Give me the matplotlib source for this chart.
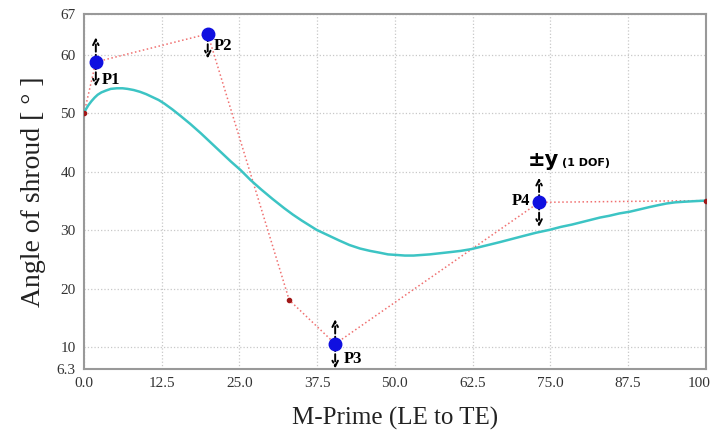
import numpy as np
import matplotlib.pyplot as plt
import matplotlib.transforms as mtransforms

# control polygon (Bezier control points)
ctrl_x = [0.0, 1.9, 19.9, 33.0, 40.4, 73.2, 100.0]
ctrl_y = [50.0, 58.8, 63.6, 18.1, 10.6, 34.8, 35.1]

# movable points P1..P4
p_names = ["P1", "P2", "P3", "P4"]
p_x = [1.9, 19.9, 40.4, 73.2]
p_y = [58.8, 63.6, 10.6, 34.8]

# fixed points
fix_x = [0.0, 33.0, 100.0]
fix_y = [50.0, 18.1, 35.1]

# shroud curve
curve_x = [0, 0.3, 0.7, 1.2, 1.7, 2.2, 2.8, 3.5, 4.3, 5.3, 6.2, 7.0, 8.0, 9.0, 10.0,
           11.0, 12.0, 12.9, 14.2, 15.5, 17.1, 18.8, 20.4, 22.0, 23.6, 25.2, 26.8,
           28.5, 30.3, 32.2, 33.6, 35.0, 36.2, 37.4, 39.2, 41.0, 42.7, 44.4, 46.0,
           47.5, 48.9, 50.3, 51.6, 53.0, 54.3, 55.6, 57.3, 59.0, 60.6, 62.3, 64.6,
           66.9, 68.7, 70.5, 72.7, 74.9, 76.7, 78.5, 80.0, 81.5, 83.0, 84.5, 86.1,
           87.8, 89.4, 91.0, 92.3, 93.7, 95.1, 96.5, 98.2, 100]
curve_y = [50.0, 50.7, 51.4, 52.1, 52.7, 53.2, 53.6, 53.9, 54.2, 54.3, 54.3, 54.2,
           54.0, 53.7, 53.3, 52.8, 52.3, 51.7, 50.7, 49.6, 48.2, 46.6, 45.0, 43.4,
           41.8, 40.3, 38.6, 37.0, 35.4, 33.8, 32.7, 31.7, 30.9, 30.1, 29.2, 28.3,
           27.5, 26.9, 26.5, 26.2, 25.9, 25.8, 25.7, 25.7, 25.8, 25.9, 26.1, 26.3,
           26.5, 26.8, 27.4, 28.0, 28.5, 29.0, 29.6, 30.1, 30.6, 31.0, 31.4, 31.8,
           32.2, 32.5, 32.9, 33.2, 33.6, 34.0, 34.3, 34.6, 34.8, 34.9, 35.0, 35.1]

xticks = [0, 12.5, 25, 37.5, 50, 62.5, 75, 87.5, 100]
xtick_labels = ["0.0", "12.5", "25.0", "37.5", "50.0", "62.5", "75.0", "87.5", "100"]
yticks = [6.3, 10, 20, 30, 40, 50, 60, 67]
ytick_labels = ["6.3", "10", "20", "30", "40", "50", "60", "67"]

plt.rcParams['font.family'] = ['Liberation Serif', 'DejaVu Serif']

fig = plt.figure(figsize=(7.15, 4.38), dpi=100)
ax = fig.add_axes([0.1175, 0.1575, 0.8695, 0.8105])

ax.plot(ctrl_x, ctrl_y, linestyle=':', color='#f07070', linewidth=1.1, zorder=2)
ax.plot(curve_x, curve_y, color='#3cc4c4', linewidth=1.8, zorder=3)
ax.plot(fix_x, fix_y, 'o', color='#a01818', markersize=3, zorder=4)

# double arrows (1 DOF)
for x, y in zip(p_x, p_y):
    for d in (1, -1):
        ax.annotate("", xy=(x, y + d * 4.2), xytext=(x, y),
                    arrowprops=dict(arrowstyle='->', linestyle='--', color='black',
                                    lw=1.4, shrinkA=0, shrinkB=0), zorder=5)

ax.plot(p_x, p_y, 'o', color='#1010e0', markersize=9, zorder=6)

offsets = [(1.0, -3.0, 'left'), (1.0, -2.0, 'left'), (1.4, -2.6, 'left'), (-1.5, 0.3, 'right')]
for name, x, y, (dx, dy, ha) in zip(p_names, p_x, p_y, offsets):
    ax.text(x + dx, y + dy, name, fontsize=12, fontweight='bold', ha=ha, va='center',
            zorder=7)

ax.text(71.4, 42.0, "±y", fontsize=15, fontweight='bold', family=['DejaVu Sans'],
        ha='left', va='center')
ax.text(76.9, 41.6, "(1 DOF)", fontsize=8, fontweight='bold', family=['DejaVu Sans'],
        ha='left', va='center')

ax.set_xlim(0, 100)
ax.set_ylim(6.3, 67)
ax.set_xticks(xticks)
ax.set_xticklabels(xtick_labels)
ax.set_yticks(yticks)
ax.set_yticklabels(ytick_labels)
ax.tick_params(labelsize=11, labelcolor='#333333', length=0, pad=6)
ax.grid(True, linestyle=':', color='#c8c8c8', linewidth=0.9)
for s in ax.spines.values():
    s.set_color('#999999')
    s.set_linewidth(1.5)

# keep "100" inside the figure
last = ax.get_xticklabels()[-1]
last.set_transform(last.get_transform() + mtransforms.ScaledTranslation(-5 / 72, 0, fig.dpi_scale_trans))

ax.set_xlabel("M-Prime (LE to TE)", fontsize=18, labelpad=12, color='#222222')
ax.set_ylabel("Angle of shroud [ ° ]", fontsize=20, labelpad=8, color='#222222')

plt.savefig("out.png", dpi=100)
